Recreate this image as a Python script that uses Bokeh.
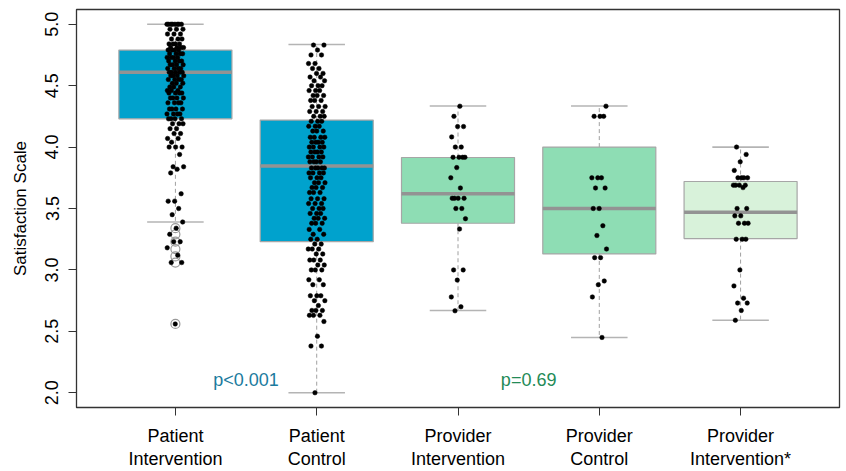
import numpy as np
from bokeh.plotting import figure
from bokeh.models import FixedTicker, ColumnDataSource, Label, Range1d, LinearAxis
from bokeh.embed import file_html
from bokeh.resources import INLINE

# ---------------- data ----------------
groups_line1 = ["Patient", "Patient", "Provider", "Provider", "Provider"]
groups_line2 = ["Intervention", "Control", "Intervention", "Control", "Intervention*"]
positions = [1, 2, 3, 4, 5]

whisk_lo = [3.39, 2.00, 2.67, 2.45, 2.59]
q1 = [4.23, 3.23, 3.38, 3.13, 3.255]
median = [4.61, 3.845, 3.62, 3.50, 3.47]
q3 = [4.79, 4.22, 3.915, 4.00, 3.72]
whisk_hi = [5.00, 4.835, 4.335, 4.335, 4.00]

outliers_pi = [3.34, 3.29, 3.23, 3.17, 3.11, 3.06, 2.56]

# responses: score levels and number of responses at each level
pi_levels = [5.0, 4.96, 4.92, 4.88, 4.84, 4.81, 4.79, 4.76, 4.73, 4.70, 4.67, 4.64, 4.61,
             4.58, 4.55, 4.52, 4.49, 4.46, 4.44, 4.40, 4.36, 4.31, 4.27, 4.23, 4.19, 4.15,
             4.11, 4.07, 4.04, 4.0, 3.94, 3.84, 3.82, 3.79, 3.62, 3.56, 3.50, 3.45, 3.39,
             3.34, 3.29, 3.23, 3.18, 3.12, 3.06, 2.56]
pi_counts = [8, 3, 3, 3, 4, 4, 4, 4, 4, 4, 4, 4, 5,
             4, 4, 3, 3, 3, 4, 4, 4, 4, 4, 4, 3, 2,
             2, 2, 1, 3, 1, 2, 1, 1, 1, 2, 1, 1, 1,
             1, 1, 2, 1, 1, 2, 1]

pc_levels = [4.83, 4.79, 4.75, 4.68, 4.64, 4.60, 4.57, 4.54, 4.50, 4.46, 4.42, 4.38, 4.33,
             4.29, 4.25, 4.21, 4.17, 4.13, 4.08, 4.04, 4.00, 3.96, 3.92, 3.88, 3.83, 3.79,
             3.75, 3.71, 3.67, 3.63, 3.58, 3.54, 3.50, 3.46, 3.42, 3.38, 3.33, 3.29, 3.25,
             3.21, 3.17, 3.13, 3.08, 3.04, 3.00, 2.92, 2.88, 2.79, 2.75, 2.71, 2.67, 2.63,
             2.58, 2.46, 2.38, 2.00]
pc_counts = [2, 1, 2, 2, 2, 2, 2, 2, 3, 3, 3, 3, 3,
             3, 3, 3, 3, 3, 4, 4, 4, 4, 4, 4, 5, 4,
             3, 3, 3, 3, 3, 3, 3, 3, 3, 3, 2, 2, 2,
             2, 3, 2, 3, 2, 3, 2, 2, 3, 2, 1, 3, 3,
             1, 1, 2, 1]

vi_levels = [4.333, 4.25, 4.167, 4.083, 4.0, 3.917, 3.833, 3.75, 3.667, 3.583, 3.5, 3.417,
             3.333, 3.0, 2.917, 2.78, 2.70, 2.667]
vi_counts = [1, 1, 2, 1, 2, 4, 1, 1, 1, 4, 2, 1, 1, 2, 1, 1, 1, 1]

vc_levels = [4.333, 4.25, 3.75, 3.667, 3.5, 3.36, 3.28, 3.17, 3.10, 2.91, 2.88, 2.78, 2.45]
vc_counts = [1, 3, 3, 2, 2, 1, 1, 1, 2, 1, 1, 1, 1]

vs_levels = [4.0, 3.94, 3.88, 3.81, 3.75, 3.69, 3.67, 3.5, 3.44, 3.38, 3.25, 3.0, 2.87,
             2.77, 2.73, 2.67, 2.59]
vs_counts = [1, 1, 1, 1, 4, 4, 1, 2, 2, 3, 3, 1, 1, 1, 2, 1, 1]

p_texts = ["p<0.001", "p=0.69"]
p_x = [1.5, 3.5]
p_y = [2.1, 2.1]

# ---------------- styles ----------------
FONT = "Liberation Sans"
fills = ["#00A2CD", "#00A2CD", "#8EDDB4", "#8EDDB4", "#D8F2DA"]
p_colors = ["#1B7B9E", "#238B57"]

p = figure(width=846, height=471, output_backend="svg", toolbar_location=None,
           x_range=Range1d(0.3, 5.7), y_range=Range1d(1.88, 5.12),
           min_border_left=76, min_border_right=7, min_border_top=9, min_border_bottom=64)
p.background_fill_color = "white"
p.border_fill_color = "white"
p.grid.visible = False
p.outline_line_color = "#333333"
p.outline_line_width = 1.3

bw = 0.8
cap = 0.2
pos = np.array(positions, dtype=float)
box_src = ColumnDataSource(dict(
    left=pos - bw / 2, right=pos + bw / 2, q1=q1, q3=q3, med=median,
    lo=whisk_lo, hi=whisk_hi, x=pos, cl=pos - cap, cr=pos + cap, fill=fills))

p.segment(x0="x", y0="q3", x1="x", y1="hi", source=box_src, line_color="#A0A0A0",
          line_dash="4 3", line_width=1)
p.segment(x0="x", y0="q1", x1="x", y1="lo", source=box_src, line_color="#A0A0A0",
          line_dash="4 3", line_width=1)
p.segment(x0="cl", y0="hi", x1="cr", y1="hi", source=box_src, line_color="#B4B4B4",
          line_width=1.6)
p.segment(x0="cl", y0="lo", x1="cr", y1="lo", source=box_src, line_color="#B4B4B4",
          line_width=1.6)
p.quad(left="left", right="right", bottom="q1", top="q3", source=box_src,
       fill_color="fill", line_color="#A6A6A6", line_width=1.2)
p.segment(x0="left", y0="med", x1="right", y1="med", source=box_src,
          line_color="#939393", line_width=3.5)

p.scatter(x=[1.0] * len(outliers_pi), y=outliers_pi, size=9, marker="circle",
          fill_color=None, line_color="#999999", line_width=1.2)

all_levels = [pi_levels, pc_levels, vi_levels, vc_levels, vs_levels]
all_counts = [pi_counts, pc_counts, vi_counts, vc_counts, vs_counts]
spread = [0.12, 0.12, 0.11, 0.11, 0.11]
xs, ys = [], []
for g, (lv, ct) in enumerate(zip(all_levels, all_counts)):
    vals = np.repeat(lv, ct)
    n = len(vals)
    jit = ((np.arange(n) * 0.6180339887 + 0.31 * g) % 1.0 - 0.5) * spread[g]
    xs.extend(list(positions[g] + jit))
    ys.extend(list(vals))
p.scatter(x=xs, y=ys, size=4.5, marker="circle", fill_color="black", line_color="black",
          line_width=0.5)

for t, xx, yy, c in zip(p_texts, p_x, p_y, p_colors):
    p.add_layout(Label(x=xx, y=yy, text=t, text_align="center", text_baseline="middle",
                       text_color=c, text_font_size="18px", text_font=FONT))

# axes
p.xaxis.ticker = FixedTicker(ticks=positions)
p.xaxis.major_label_overrides = {pp: g for pp, g in zip(positions, groups_line1)}
p.xaxis.major_label_text_font = FONT
p.xaxis.major_label_text_font_size = "18px"
p.xaxis.major_label_text_color = "black"
p.xaxis.major_label_standoff = 10
p.xaxis.major_tick_out = 8
p.xaxis.major_tick_in = 0
p.xaxis.minor_tick_line_color = None
p.xaxis.axis_line_color = "#333333"
p.xaxis.major_tick_line_color = "#333333"

ax2 = LinearAxis(ticker=FixedTicker(ticks=positions),
                 major_label_overrides={pp: g for pp, g in zip(positions, groups_line2)})
ax2.major_label_text_font = FONT
ax2.major_label_text_font_size = "18px"
ax2.major_label_text_color = "black"
ax2.major_label_standoff = 0
ax2.major_tick_out = 0
ax2.major_tick_in = 0
ax2.major_tick_line_color = None
ax2.minor_tick_line_color = None
ax2.axis_line_color = None
p.add_layout(ax2, "below")

yt = [2.0, 2.5, 3.0, 3.5, 4.0, 4.5, 5.0]
p.yaxis.ticker = FixedTicker(ticks=yt)
p.yaxis.major_label_overrides = {v: f"{v:.1f}" for v in yt}
p.yaxis.major_label_orientation = "vertical"
p.yaxis.major_label_text_font = FONT
p.yaxis.major_label_text_font_size = "18px"
p.yaxis.major_label_text_color = "black"
p.yaxis.major_label_standoff = 10
p.yaxis.major_tick_out = 8
p.yaxis.major_tick_in = 0
p.yaxis.minor_tick_line_color = None
p.yaxis.axis_line_color = "#333333"
p.yaxis.major_tick_line_color = "#333333"
p.yaxis.axis_label = "Satisfaction Scale"
p.yaxis.axis_label_text_font = FONT
p.yaxis.axis_label_text_font_size = "17px"
p.yaxis.axis_label_text_font_style = "normal"
p.yaxis.axis_label_text_color = "black"
p.yaxis.axis_label_standoff = 13

open("out.html", "w").write(file_html(p, INLINE))
